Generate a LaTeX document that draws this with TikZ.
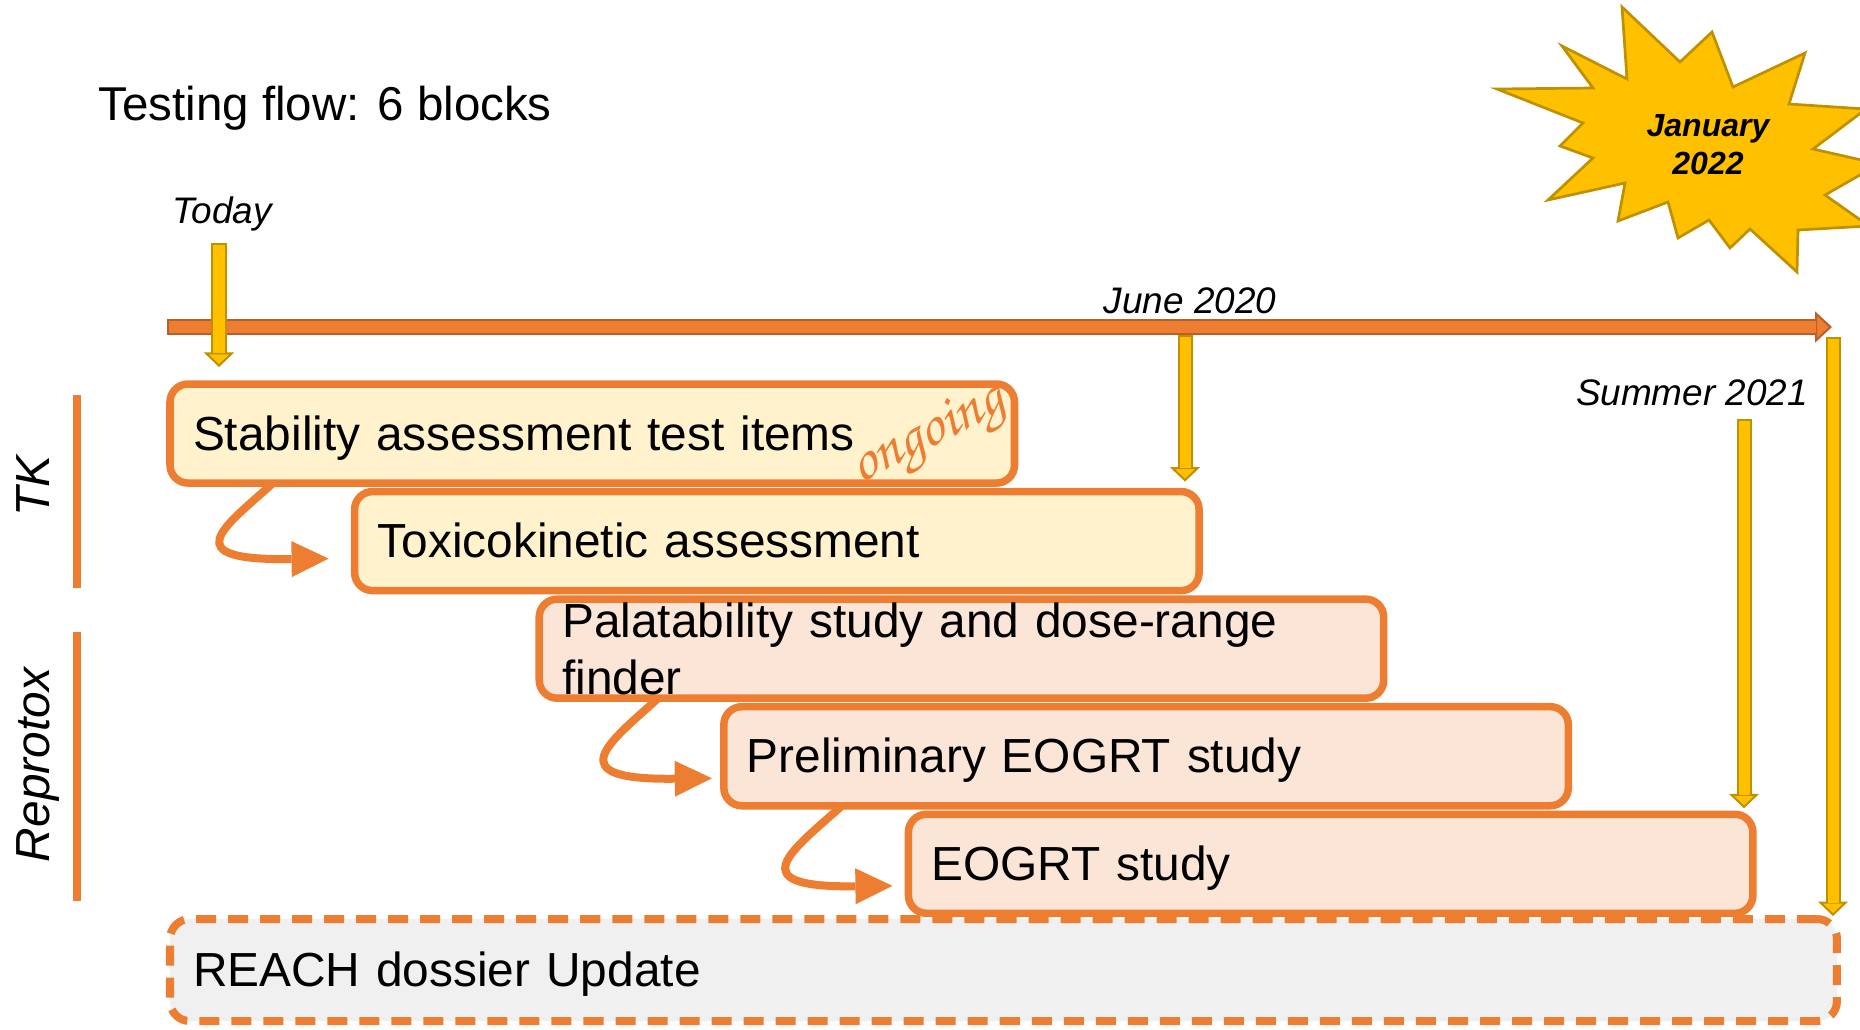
\documentclass[tikz,border=0pt]{standalone}
\usepackage{fontspec}
\setmainfont{Liberation Sans}
\usetikzlibrary{arrows.meta, positioning}

\definecolor{boxorange}{HTML}{ED7D31}
\definecolor{lineorange}{HTML}{B9602A}
\definecolor{ylw}{HTML}{FFC000}
\definecolor{ylwdark}{HTML}{BF9000}
\definecolor{tkfill}{HTML}{FFF2CC}
\definecolor{rtfill}{HTML}{FBE5D6}
\definecolor{reachfill}{HTML}{F0F0F0}

\begin{document}
\begin{tikzpicture}[x=0.01cm, y=-0.01cm,
    stepnode/.style={draw=boxorange, line width=0.75mm, rounded corners=1.8mm, outer sep=0pt,
        minimum width=8.44cm, minimum height=0.99cm, text width=7.98cm, align=left,
        inner xsep=2.3mm, inner ysep=0pt, font=\fontsize{13.6}{16.3}\selectfont},
    tknode/.style={stepnode, fill=tkfill},
    rtnode/.style={stepnode, fill=rtfill},
    oneline/.style={text height=4.3mm, text depth=1mm},
    reachnode/.style={draw=boxorange, line width=0.8mm, dash pattern=on 2mm off 1.2mm,
        rounded corners=2mm, fill=reachfill, outer sep=0pt, minimum width=16.66cm,
        minimum height=1.02cm, text width=16.2cm, align=left, inner xsep=2.3mm, inner ysep=0pt,
        font=\fontsize{13.6}{16.3}\selectfont},
    datelabel/.style={anchor=base, inner sep=0pt, font=\fontsize{10.5}{12.6}\selectfont\itshape},
    grouplabel/.style={anchor=base, rotate=90, inner sep=0pt, font=\fontsize{13.6}{16.3}\selectfont\itshape},
    groupbar/.style={draw=boxorange, line width=0.75mm},
    yarrow/.style={draw=ylwdark, line width=1.5mm, shorten >=#1,
        -{Triangle[length=1.45mm, width=3.0mm, line width=0.2mm, fill=ylw]},
        postaction={draw=ylw, line width=1.1mm, -, shorten <=0.2mm, shorten >=#1+1.35mm}},
    tline/.style={draw=lineorange, line width=1.6mm,
        -{Triangle[length=1.7mm, width=3.1mm, line width=0.2mm, fill=boxorange]},
        postaction={draw=boxorange, line width=1.2mm, -, shorten <=0.2mm, shorten >=1.6mm}},
    curvy/.style={draw=boxorange, line width=0.8mm, -{Triangle[length=3.7mm, width=3.6mm, line width=0pt]}}]

    \useasboundingbox (0,0) rectangle (1860,1030);

    \node[anchor=base west, inner sep=0pt, font=\fontsize{13.5}{16.2}\selectfont] (title) at (98,120) {Testing flow: 6 blocks};

    % star
    \filldraw[fill=ylw, draw=ylwdark, line width=0.27mm] (1497,89) -- (1583,123) -- (1560,146) -- (1593,158) -- (1548,200) -- (1625,183) -- (1618,221) -- (1668,202) -- (1678,238) -- (1709,220) -- (1730,248) -- (1750,229) -- (1797,272) -- (1798,230) -- (1869,226) -- (1825,195) -- (1879,164) -- (1813,149) -- (1866,109) -- (1789,104) -- (1805,53) -- (1733,87) -- (1712,32) -- (1680,62) -- (1622,7) -- (1627,79) -- (1562,46) -- (1593,88) -- cycle;
    \node[inner sep=0pt, align=center, font=\fontsize{9.1}{10.8}\selectfont\bfseries\itshape] (jan) at (1708,145) {January\\2022};

    \node[datelabel] (today) at (222,223) {Today};
    \node[datelabel] (june) at (1190,313) {June 2020};
    \node[datelabel] (summer) at (1692,405) {Summer 2021};

    \node[grouplabel] (tk) at (49,486) {TK};
    \node[grouplabel] (repro) at (49,765) {Reprotox};
    \draw[groupbar] (77,395) -- (77,588);
    \draw[groupbar] (77,632) -- (77,901);

    \node[tknode, oneline, anchor=north west] (stab) at (170,384) {Stability assessment test items};
    \node[tknode, oneline] (tox) [below right=0.85mm and 18.45mm of stab.south west] {Toxicokinetic assessment};
    \node[rtnode] (palat) [below right=0.85mm and 18.45mm of tox.south west] {Palatability study and dose-range\\finder};
    \node[rtnode, oneline] (prelim) [below right=0.85mm and 18.45mm of palat.south west] {Preliminary EOGRT study};
    \node[rtnode, oneline] (eogrt) [below right=0.85mm and 18.45mm of prelim.south west] {EOGRT study};
    \node[reachnode, oneline, anchor=north west] (reach) at (170,919) {REACH dossier Update};

    \node[text=boxorange, rotate=27, inner sep=0pt, font=\fontencoding{T1}\fontfamily{pzc}\fontsize{17}{19}\selectfont] (ongoing) at (930,438) {ongoing};

    \draw[curvy] ([xshift=10.3mm]stab.south west) .. controls +(-50,45) and +(-154,2) .. ([xshift=-2.6mm, yshift=-1.75mm]tox.west);
    \draw[curvy] ([xshift=11.9mm]palat.south west) .. controls +(-50,45) and +(-154,2) .. ([xshift=-1.2mm, yshift=-2.2mm]prelim.west);
    \draw[curvy] ([xshift=11.8mm]prelim.south west) .. controls +(-50,45) and +(-154,2) .. ([xshift=-1.6mm, yshift=-2.2mm]eogrt.west);

    \coordinate (tlstart) at (167,327);
    \coordinate (tlend) at (1832,327);
    \draw[tline] (tlstart) -- (tlend);

    \coordinate (todaytop) at (219,243);
    \coordinate (junetop) at (1185,335);
    \coordinate (summertop) at (1744,419);
    \coordinate (jantop) at (1833,337);
    \draw[yarrow=1.7mm] (todaytop) -- (todaytop |- stab.north);
    \draw[yarrow=1.0mm] (junetop) -- (junetop |- tox.north);
    \draw[yarrow=0.6mm] (summertop) -- (summertop |- eogrt.north);
    \draw[yarrow=0.3mm] (jantop) -- (jantop |- reach.north);
\end{tikzpicture}
\end{document}
